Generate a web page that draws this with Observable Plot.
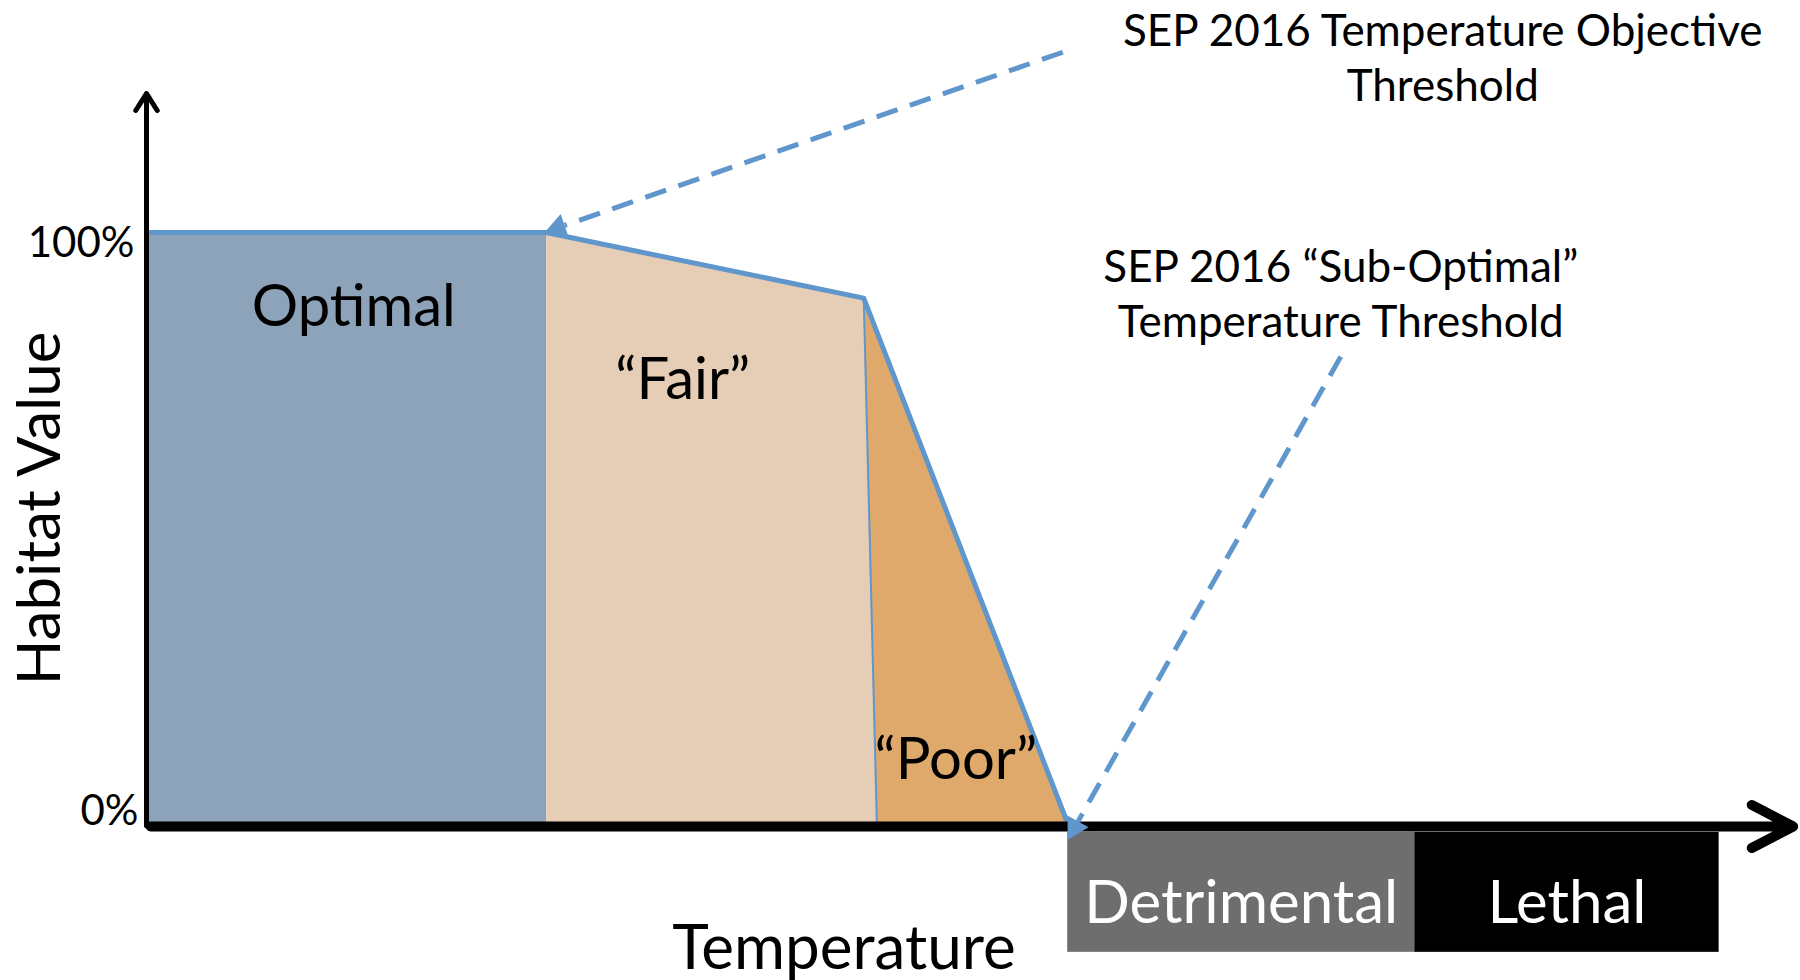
<!DOCTYPE html>
<html>
<head>
<meta charset="utf-8">
<script src="https://cdn.jsdelivr.net/npm/d3@7"></script>
<script src="https://cdn.jsdelivr.net/npm/@observablehq/plot@0.6"></script>
<style>
  html, body { margin: 0; padding: 0; background: #fff; }
  #chart { width: 1800px; height: 980px; }
</style>
</head>
<body>
<div id="chart"></div>
<script>
// ---- Data (temperature in arbitrary units 0–100, habitat value in %) ----
const curveTemp    = [0, 24.3, 43.6, 56.0];   // breakpoints of the habitat curve
const curveHabitat = [100, 100, 88.9, 0];     // habitat value at each breakpoint (%)
const fairPoorBottomTemp = 44.4;              // foot of the Fair/Poor divider
const zoneNames   = ["Optimal", "“Fair”", "“Poor”"];
const zoneLabelTemp = [12.6, 32.6, 49.2];
const zoneLabelValue = [87.3, 75.0, 10.7];

const toleranceNames = ["Detrimental", "Lethal"];
const toleranceStart = [56.0, 77.1];
const toleranceEnd   = [77.1, 95.6];
const toleranceTop = -1.5, toleranceBottom = -21.8;

const tickValues = [0, 100];
const tickLabels = ["0%", "100%"];

const xTitle = "Temperature";
const yTitle = "Habitat Value";

const annotationTexts = ["SEP 2016 Temperature Objective\nThreshold", "SEP 2016 “Sub-Optimal”\nTemperature Threshold"];
const annotationTextTemp  = [78.8, 72.6];
const annotationTextValue = [129.8, 89.9];
const annotationFromTemp  = [55.7, 72.6];
const annotationFromValue = [130.5, 79.0];
const annotationToTemp    = [24.5, 56.15];
const annotationToValue   = [100.3, -2.0];

// ---- Layout / styles ----
const W = 1800, H = 980, ML = 146, MR = 9, MT = 232, MB = 157;
const zoneFill = ["#8CA3BA", "#E6CDB5", "#DFA96B"];
const toleranceFill = ["#6E6E6E", "#000000"];
const curveBlue = "#5F96CC";
const FONT = "Lato, 'Open Sans', sans-serif";

// pixel per data unit (for orienting arrowheads)
const pxX = (W - ML - MR) / 100, pxY = (H - MT - MB) / 100;

// ---- Build shapes from the data ----
const P = (i) => ({t: curveTemp[i], v: curveHabitat[i]});
const zonePolys = [
  [{t: curveTemp[0], v: 0}, P(0), P(1), {t: curveTemp[1], v: 0}],
  [{t: curveTemp[1], v: 0}, P(1), P(2), {t: fairPoorBottomTemp, v: 0}],
  [{t: fairPoorBottomTemp, v: 0}, P(2), P(3)]
];
const curve = curveTemp.map((t, i) => ({t, v: curveHabitat[i]}));
const divider = [P(2), {t: fairPoorBottomTemp, v: 0}];

const tolerance = toleranceNames.map((name, i) => ({
  name, x1: toleranceStart[i], x2: toleranceEnd[i], fill: toleranceFill[i]
}));

const annotations = annotationTexts.map((text, i) => {
  const fx = annotationFromTemp[i], fy = annotationFromValue[i];
  const tx = annotationToTemp[i], ty = annotationToValue[i];
  const dxp = (tx - fx) * pxX, dyp = -(ty - fy) * pxY;   // screen direction
  const len = Math.hypot(dxp, dyp);
  const back = 9 / len, stop = 16 / len;
  return {
    text, lx: annotationTextTemp[i], ly: annotationTextValue[i],
    fx, fy, tx, ty,
    hx: tx + (fx - tx) * back, hy: ty + (fy - ty) * back,      // arrowhead centre
    ex: tx + (fx - tx) * stop, ey: ty + (fy - ty) * stop,      // end of dashed shaft
    rot: Math.atan2(dxp, -dyp) * 180 / Math.PI
  };
});

const marks = [];
zonePolys.forEach((poly, i) => {
  marks.push(Plot.line(poly, {x: "t", y: "v", fill: zoneFill[i], stroke: "none"}));
});
marks.push(Plot.line(divider, {x: "t", y: "v", stroke: curveBlue, strokeWidth: 2}));
marks.push(Plot.line(curve, {x: "t", y: "v", stroke: curveBlue, strokeWidth: 5, strokeLinejoin: "round"}));

// Tolerance boxes below the axis
marks.push(Plot.rect(tolerance, {x1: "x1", x2: "x2", y1: toleranceTop, y2: toleranceBottom, fill: "fill"}));
marks.push(Plot.text(tolerance, {x: d => (d.x1 + d.x2) / 2, y: (toleranceTop + toleranceBottom) / 2 - 2, text: "name",
  fill: "white", fontSize: 60, fontFamily: FONT}));

// Axes with arrowheads (Plot scales the head by stroke width: length = headLength/1.5*strokeWidth)
marks.push(Plot.arrow([{x1: 0.25, y1: -0.5, x2: 100.1, y2: -0.5}], {x1: "x1", y1: "y1", x2: "x2", y2: "y2",
  stroke: "black", strokeWidth: 10, headLength: 7, headAngle: 55, strokeLinecap: "round", strokeLinejoin: "round"}));
marks.push(Plot.arrow([{x1: 0, y1: -0.4, x2: 0, y2: 123.5}], {x1: "x1", y1: "y1", x2: "x2", y2: "y2",
  stroke: "black", strokeWidth: 5, headLength: 6, headAngle: 65, strokeLinecap: "round", strokeLinejoin: "round"}));

// Tick labels
marks.push(Plot.text([{v: tickValues[1], s: tickLabels[1]}], {x: 0, y: "v", text: "s", textAnchor: "end", dx: -12, dy: 11,
  fontSize: 42, fontFamily: FONT, fill: "black"}));
marks.push(Plot.text([{v: tickValues[0], s: tickLabels[0]}], {x: 0, y: "v", text: "s", textAnchor: "end", dx: -8, dy: -12,
  fontSize: 42, fontFamily: FONT, fill: "black"}));

// Axis titles
marks.push(Plot.text([xTitle], {x: 42.4, y: -21.3, text: d => d, fontSize: 62, fontFamily: FONT, fill: "black"}));
marks.push(Plot.text([yTitle], {x: -6.45, y: 53.3, text: d => d, rotate: -90, fontSize: 60, fontFamily: FONT, fill: "black"}));

// Zone labels
marks.push(Plot.text(zoneNames.map((name, i) => ({name, t: zoneLabelTemp[i], v: zoneLabelValue[i]})),
  {x: "t", y: "v", text: "name", fontSize: 58, fontFamily: FONT, fill: "black"}));

// Annotations: dashed shaft + solid triangular head
marks.push(Plot.link(annotations, {x1: "fx", y1: "fy", x2: "ex", y2: "ey", stroke: curveBlue, strokeWidth: 5,
  strokeDasharray: "22,13"}));
marks.push(Plot.dot(annotations, {x: "hx", y: "hy", rotate: "rot", symbol: "triangle", r: 9, fill: curveBlue, stroke: "none"}));
marks.push(Plot.text(annotations, {x: "lx", y: "ly", text: "text", fontSize: 44, lineHeight: 1.25,
  fontFamily: FONT, fill: "black"}));

const chart = Plot.plot({
  width: W,
  height: H,
  marginLeft: ML,
  marginRight: MR,
  marginTop: MT,
  marginBottom: MB,
  x: {domain: [0, 100], axis: null},
  y: {domain: [0, 100], axis: null},
  style: {background: "white", fontFamily: FONT, overflow: "visible"},
  marks
});
document.getElementById("chart").appendChild(chart);
</script>
</body>
</html>
